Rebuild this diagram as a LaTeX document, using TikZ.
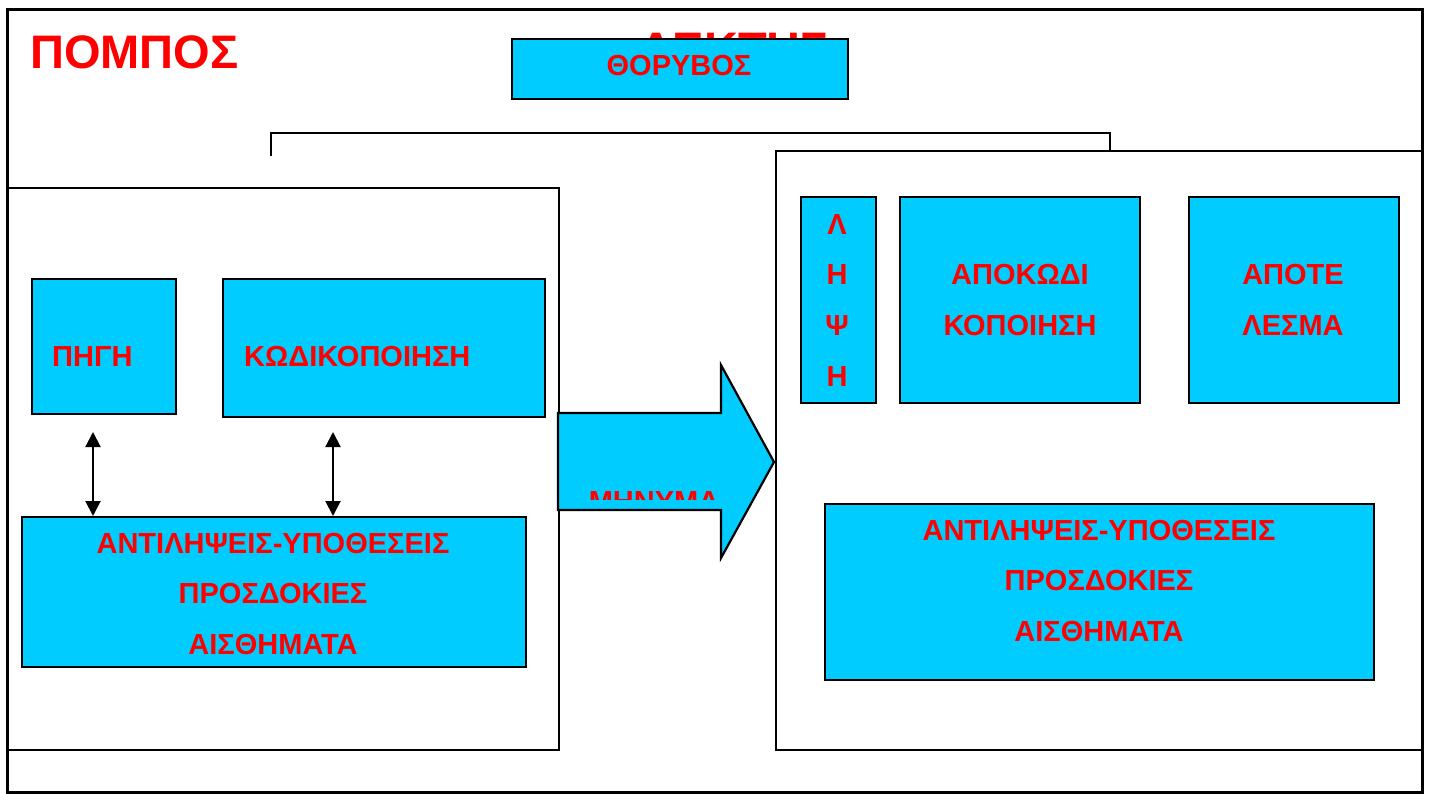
\documentclass[tikz,border=0pt]{standalone}
\usepackage{fontspec}
\setmainfont{Liberation Sans}
\usetikzlibrary{arrows.meta}
\definecolor{boxcyan}{RGB}{0,204,255}
\definecolor{txtred}{RGB}{255,0,0}
\tikzset{
  bluebox/.style={draw=black, line width=2.2pt, fill=boxcyan, inner sep=0pt, anchor=north west},
  plainbox/.style={draw=black, line width=2.2pt, inner sep=0pt, anchor=north west},
  lbl/.style={text=txtred, font=\fontsize{29}{34}\selectfont\bfseries, inner sep=0pt},
  biglbl/.style={text=txtred, font=\fontsize{47}{54}\selectfont\bfseries, inner sep=0pt},
  dblarrow/.style={line width=2pt, {Triangle[width=15pt,length=15pt]}-{Triangle[width=15pt,length=15pt]}}
}
\begin{document}
\begin{tikzpicture}[x=1pt,y=-1pt]
\useasboundingbox (0,0) rectangle (1431,794);
% outer frame
\draw[line width=3pt] (7,10) rectangle (1422,792);
% titles
\node[biglbl, anchor=west] (pompos) at (30,52) {ΠΟΜΠΟΣ};
\node[biglbl] (dektis) at (734,49) {ΔΕΚΤΗΣ};
% noise box
\node[bluebox, minimum width=336pt, minimum height=60pt] (noise) at (511,38) {};
\node[lbl] (noisetxt) at (679,66) {ΘΟΡΥΒΟΣ};
% bracket
\coordinate (brL) at (271,156);
\coordinate (brR) at (1110,150);
\draw[line width=2.2pt] (brL) |- (690,133) -| (brR);
% sender box
\node[plainbox, minimum width=551pt, minimum height=562pt] (sender) at (7,187) {};
% receiver box
\node[plainbox, minimum width=647pt, minimum height=599pt] (receiver) at (775,150) {};
% big arrow
\draw[line width=2.2pt, fill=boxcyan, line join=miter] (558,413) -- (721,413) -- (721,365) -- (774,462) -- (721,558) -- (721,510) -- (558,510) -- cycle;
\begin{scope}
\clip (560,415) rectangle (720,499);
\node[lbl] (msg) at (654,502) {ΜΗΝΥΜΑ};
\end{scope}
% sender inner boxes
\node[bluebox, minimum width=144pt, minimum height=135pt] (pigi) at (31,278) {};
\node[lbl, anchor=west] (pigitxt) at (52,357) {ΠΗΓΗ};
\node[bluebox, minimum width=322pt, minimum height=138pt] (kod) at (222,278) {};
\node[lbl, anchor=west] (kodtxt) at (244,357) {ΚΩΔΙΚΟΠΟΙΗΣΗ};
\node[bluebox, minimum width=504pt, minimum height=150pt] (antl) at (21,516) {};
\node[lbl] (antl1) at (273,544) {ΑΝΤΙΛΗΨΕΙΣ-ΥΠΟΘΕΣΕΙΣ};
\node[lbl] (antl2) at (273,594) {ΠΡΟΣΔΟΚΙΕΣ};
\node[lbl] (antl3) at (273,645) {ΑΙΣΘΗΜΑΤΑ};
% double arrows
\coordinate (a1t) at (93,432);
\coordinate (a2t) at (333,432);
\draw[dblarrow] (a1t) -- (a1t |- antl.north);
\draw[dblarrow] (a2t) -- (a2t |- antl.north);
% receiver inner boxes
\node[bluebox, minimum width=75pt, minimum height=206pt] (lipsi) at (800,196) {};
\node[lbl] (l1) at (837,225) {Λ};
\node[lbl] (l2) at (837,275) {Η};
\node[lbl] (l3) at (837,326) {Ψ};
\node[lbl] (l4) at (837,377) {Η};
\node[bluebox, minimum width=240pt, minimum height=206pt] (apok) at (899,196) {};
\node[lbl] (apok1) at (1020,275) {ΑΠΟΚΩΔΙ};
\node[lbl] (apok2) at (1020,326) {ΚΟΠΟΙΗΣΗ};
\node[bluebox, minimum width=210pt, minimum height=206pt] (apot) at (1188,196) {};
\node[lbl] (apot1) at (1293,275) {ΑΠΟΤΕ};
\node[lbl] (apot2) at (1293,326) {ΛΕΣΜΑ};
\node[bluebox, minimum width=549pt, minimum height=176pt] (antr) at (824,503) {};
\node[lbl] (antr1) at (1099,531) {ΑΝΤΙΛΗΨΕΙΣ-ΥΠΟΘΕΣΕΙΣ};
\node[lbl] (antr2) at (1099,581) {ΠΡΟΣΔΟΚΙΕΣ};
\node[lbl] (antr3) at (1099,632) {ΑΙΣΘΗΜΑΤΑ};
\end{tikzpicture}
\end{document}
